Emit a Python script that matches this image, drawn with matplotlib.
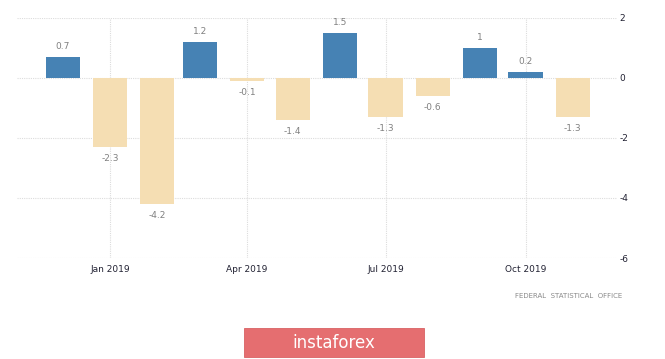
import numpy as np
import pandas as pd
import matplotlib
matplotlib.use('Agg')
import matplotlib.pyplot as plt
from matplotlib.patches import FancyBboxPatch

plt.rcParams['axes.unicode_minus'] = False

# monthly change, Dec 2018 - Nov 2019
months = pd.date_range('2018-12-01', '2019-11-01', freq='MS')
values = [0.7, -2.3, -4.2, 1.2, -0.1, -1.4, 1.5, -1.3, -0.6, 1.0, 0.2, -1.3]
labels = ['0.7', '-2.3', '-4.2', '1.2', '-0.1', '-1.4', '1.5', '-1.3', '-0.6', '1', '0.2', '-1.3']
xticks = pd.to_datetime(['2019-01-01', '2019-04-01', '2019-07-01', '2019-10-01'])
xticklabels = ['Jan 2019', 'Apr 2019', 'Jul 2019', 'Oct 2019']
yticks = [-6, -4, -2, 0, 2]

W, H = 665, 359
fig = plt.figure(figsize=(W / 100, H / 100), dpi=100)
ax = fig.add_axes([17 / W, (H - 258) / H, (617 - 17) / W, 240 / H])

colors = ['#4682b4' if v >= 0 else '#f5deb3' for v in values]
ax.bar(months, values, width=22.5, color=colors, align='center', zorder=3)

for m, v, t in zip(months, values, labels):
    off = 0.2 if v >= 0 else -0.22
    ax.text(m, v + off, t, ha='center', va='bottom' if v >= 0 else 'top',
            fontsize=6.5, color='#808080', zorder=4)

ax.set_xlim(pd.Timestamp('2018-11-01'), pd.Timestamp('2019-11-30'))
ax.set_ylim(-6, 2)
ax.set_yticks(yticks)
ax.set_yticklabels([str(v) for v in yticks])
ax.set_xticks(xticks)
ax.set_xticklabels(xticklabels)
ax.yaxis.tick_right()
ax.tick_params(axis='both', length=0, labelsize=6.5, labelcolor='#222233')
ax.tick_params(axis='y', pad=2)
ax.tick_params(axis='x', pad=5)
for s in ax.spines.values():
    s.set_visible(False)
ax.grid(True, color='#dcdcdc', linestyle=(0, (1, 1)), linewidth=0.8, zorder=0)

fig.text(622 / W, 1 - 296 / H, 'FEDERAL  STATISTICAL  OFFICE', ha='right', va='center',
         fontsize=5, color='#8a8a8a')

# logo
logo = FancyBboxPatch((244 / W, 1 - 357 / H), 180 / W, 29 / H,
                      boxstyle='square,pad=0', transform=fig.transFigure,
                      facecolor='#e56e70', edgecolor='#d86264', linewidth=0.6)
fig.patches.append(logo)
fig.text(334 / W, 1 - 343 / H, 'instaforex', ha='center', va='center',
         fontsize=12, color='white', family='DejaVu Sans')

fig.savefig('out.png', dpi=100)
